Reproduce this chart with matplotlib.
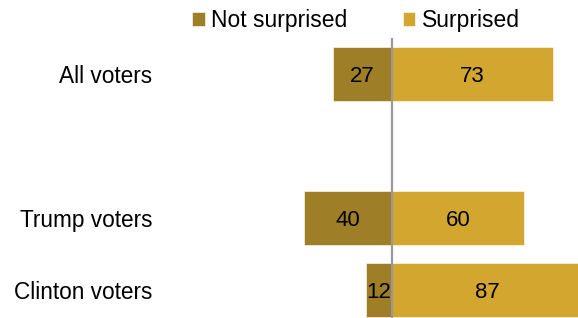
import matplotlib
matplotlib.use('Agg')
import matplotlib.pyplot as plt

groups = ['All voters', 'Trump voters', 'Clinton voters']
not_surprised = [27, 40, 12]
surprised = [73, 60, 87]

# slot positions (gap after "All voters")
ypos = [0, 2, 3]

dark = '#9E7E26'
light = '#D3A630'

plt.rcParams['font.family'] = ['Liberation Sans', 'DejaVu Sans']

fig = plt.figure(figsize=(5.78, 3.18), dpi=100)
ax = fig.add_axes([160 / 578, 0, 418 / 578, 1])

h = 0.76
ax.barh(ypos, [-v for v in not_surprised], height=h, color=dark,
        edgecolor='white', linewidth=0.4, label='Not surprised')
ax.barh(ypos, surprised, height=h, color=light,
        edgecolor='white', linewidth=0.4, label='Surprised')

for y, n, s in zip(ypos, not_surprised, surprised):
    ax.text(-n / 2, y + 0.03, str(n), ha='center', va='center', fontsize=16, color='black')
    ax.text(s / 2, y + 0.03, str(s), ha='center', va='center', fontsize=16, color='black')

ax.set_xlim(-105.5, 84.5)
ax.set_ylim(3.39, -1.03)
ax.vlines(0, -0.5, 3.39, color='#999999', linewidth=1.6, zorder=5)

ax.set_yticks(ypos)
ax.set_yticklabels(groups, fontsize=16.3)
ax.tick_params(axis='y', length=0, pad=5.5)
ax.set_xticks([])
for sp in ax.spines.values():
    sp.set_visible(False)

fig.legend(loc='upper left', bbox_to_anchor=(192 / 578, 1 - 9 / 318), ncol=2,
           frameon=False, fontsize=16.5, handlelength=0.55, handleheight=0.55,
           handletextpad=0.3, columnspacing=2.4, borderpad=0, borderaxespad=0)

fig.savefig('out.png', dpi=100)
